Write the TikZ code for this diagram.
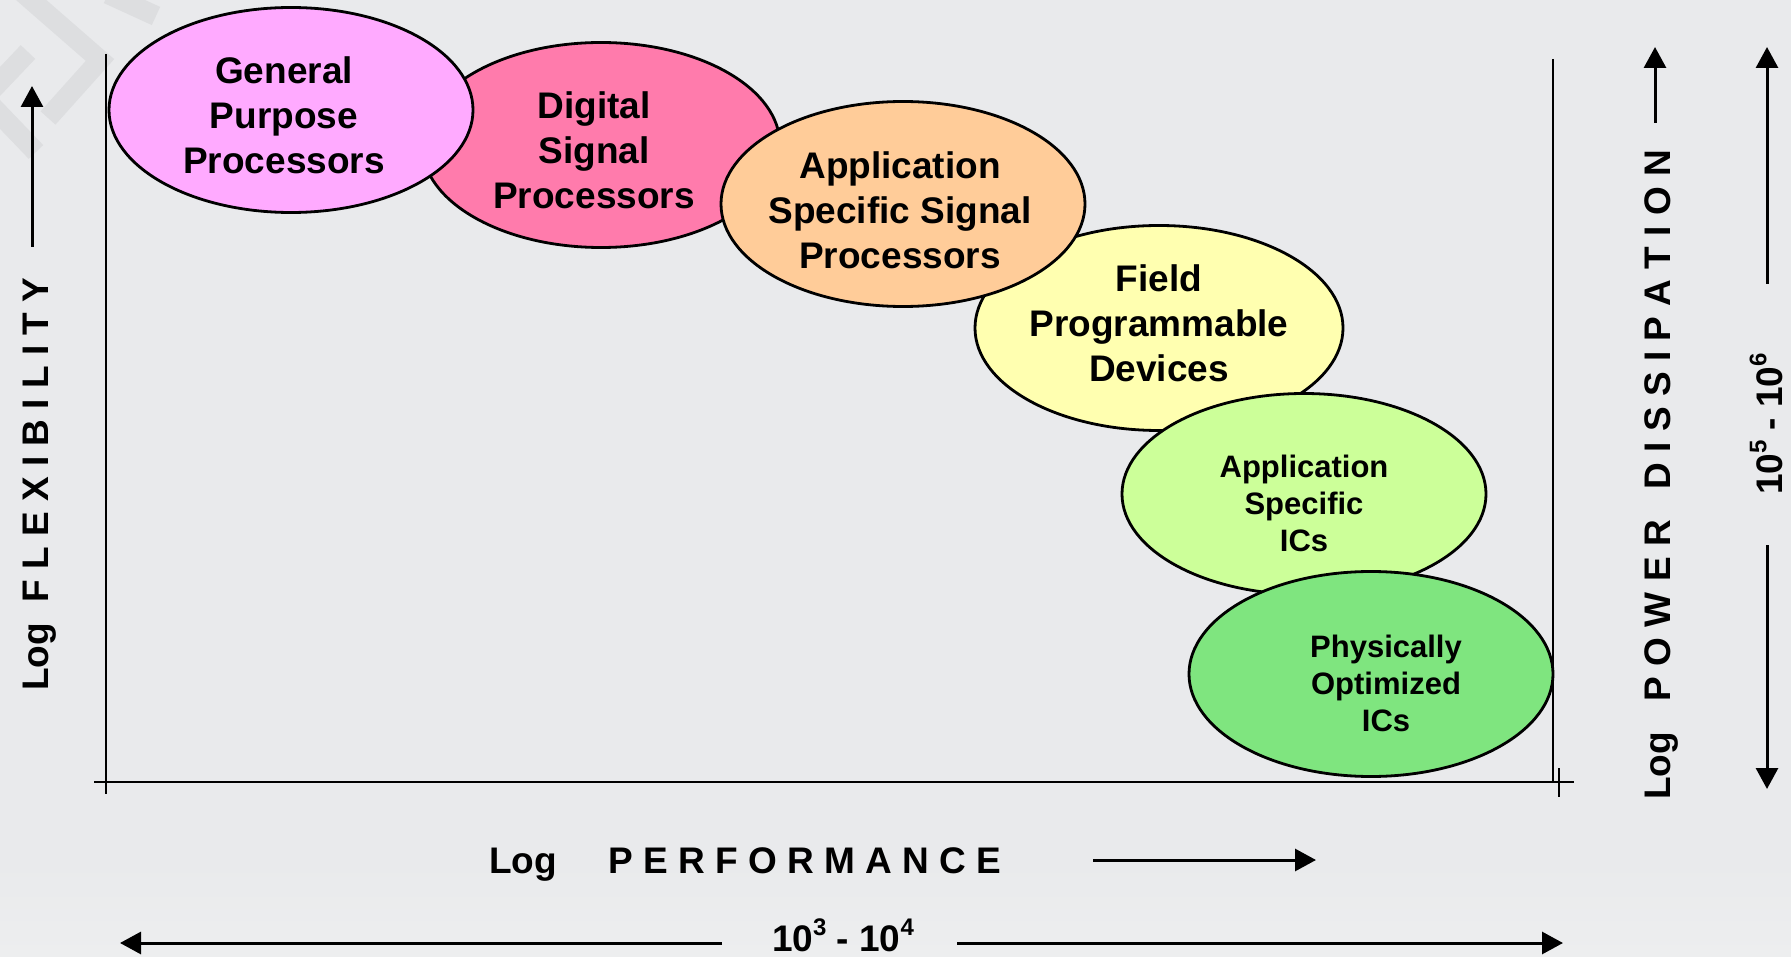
\documentclass[tikz,border=0pt]{standalone}
\usepackage{fontspec}
\setmainfont{Liberation Sans}
\usetikzlibrary{shapes.geometric,arrows.meta,calc}

\definecolor{bg}{HTML}{E9EAEC}
\definecolor{bglow}{HTML}{EDEEEF}
\definecolor{wm}{HTML}{DDDEE0}
\definecolor{cGPP}{HTML}{FFAAFF}
\definecolor{cDSP}{HTML}{FF7BAC}
\definecolor{cASSP}{HTML}{FFCC99}
\definecolor{cFPD}{HTML}{FFFFB0}
\definecolor{cASIC}{HTML}{CCFF99}
\definecolor{cPOIC}{HTML}{7FE57F}

\newcommand{\bigtxt}{\bfseries\fontsize{37}{45}\selectfont}
\newcommand{\smalltxt}{\bfseries\fontsize{31}{37}\selectfont}
\newcommand{\supr}[1]{\raisebox{0.42em}{\fontsize{24}{24}\selectfont #1}}

\tikzset{
  blob/.style={ellipse, draw=black, line width=2.8pt, inner sep=0pt,
               minimum width=364pt, minimum height=205pt},
  lbl/.style={align=center, inner sep=0pt, font=\bigtxt},
  lblsmall/.style={align=center, inner sep=0pt, font=\smalltxt},
  axis/.style={line width=2.4pt, draw=black},
  tipped/.style={line width=3pt, -{Triangle[length=21pt,width=22pt]}},
  axtext/.style={inner sep=0pt, font=\bigtxt},
}

\begin{document}
\begin{tikzpicture}[x=1pt, y=-1pt]
% canvas
\fill[bg] (0,0) rectangle (1791,957);
\shade[top color=bg, bottom color=bglow] (0,860) rectangle (1791,957);
\useasboundingbox (0,0) rectangle (1791,957);

% faint watermark chevrons in the corner
\begin{scope}[line width=20pt, draw=wm, line cap=butt]
  \draw (22,-8) -- (100,60) -- (48,118);
  \draw (28,52) -- (-10,92);
  \draw (-10,104) -- (36,152);
  \draw (108,-6) -- (156,16);
\end{scope}

% axes frame
\coordinate (yTop) at (106,54);
\coordinate (yBot) at (106,794);
\coordinate (xL) at (94,782);
\coordinate (xR) at (1574,782);
\coordinate (rTop) at (1553,59);
\coordinate (rBot) at (1553,782);
\coordinate (tkTop) at (1559,768);
\coordinate (tkBot) at (1559,797);
\draw[axis] (yTop) -- (yBot);
\draw[axis] (xL) -- (xR);
\draw[axis] (rTop) -- (rBot);
\draw[axis] (tkTop) -- (tkBot);

% technology ellipses, back to front
\node[blob, fill=cDSP, minimum width=358pt] (dsp) at (601,145) {};
\node[blob, fill=cGPP] (gpp) at (291,110) {};
\node[blob, fill=cFPD, minimum width=368pt] (fpd) at (1159,328) {};
\node[blob, fill=cASSP] (assp) at (903,204) {};
\node[blob, fill=cASIC, minimum height=201pt] (asic) at (1304,494) {};
\node[blob, fill=cPOIC] (poic) at (1371,674) {};

% ellipse captions
\node[lbl] (tgpp) at ($(gpp)+(-7,5)$) {General\\Purpose\\Processors};
\node[lbl] (tdsp) at ($(dsp)+(-7,5)$) {Digital\\Signal\\Processors};
\node[lbl] (tassp) at ($(assp)+(-3,6)$) {Application\\Specific Signal\\Processors};
\node[lbl] (tfpd) at ($(fpd)+(0,-5)$) {Field\\Programmable\\Devices};
\node[lblsmall] (tasic) at ($(asic)+(0,9)$) {Application\\Specific\\ICs};
\node[lblsmall] (tpoic) at ($(poic)+(15,9)$) {Physically\\Optimized\\ICs};

% left axis caption
\node[axtext, rotate=90, anchor=base west] (flex) at (48,691) {Log~~F L E X I B I L I T Y};
\coordinate (flexA0) at (32,247);
\coordinate (flexA1) at (32,86);
\draw[tipped] (flexA0) -- (flexA1);

% right axis caption
\node[axtext, rotate=90, anchor=base west] (power) at (1670,800) {Log~~~P O W E R~~~D I S S I P A T I O N};
\coordinate (powA0) at (1655,123);
\coordinate (powA1) at (1655,47);
\draw[tipped] (powA0) -- (powA1);

% power range
\node[axtext, rotate=90, anchor=base] (prange) at (1782,424) {10\supr{5} - 10\supr{6}};
\coordinate (prUp0) at (1767,284);
\coordinate (prUp1) at (1767,47);
\coordinate (prDn0) at (1767,545);
\coordinate (prDn1) at (1767,789);
\draw[tipped] (prUp0) -- (prUp1);
\draw[tipped] (prDn0) -- (prDn1);

% bottom axis caption
\node[axtext, anchor=base west] (perf) at (489,873) {Log~~~~~P E R F O R M A N C E};
\coordinate (perfA0) at (1093,860);
\coordinate (perfA1) at (1316,860);
\draw[tipped] (perfA0) -- (perfA1);

% performance range
\node[axtext, anchor=base] (hrange) at (843,951) {10\supr{3} - 10\supr{4}};
\coordinate (hrL0) at (722,943);
\coordinate (hrL1) at (120,943);
\coordinate (hrR0) at (957,943);
\coordinate (hrR1) at (1563,943);
\draw[tipped] (hrL0) -- (hrL1);
\draw[tipped] (hrR0) -- (hrR1);
\end{tikzpicture}
\end{document}
